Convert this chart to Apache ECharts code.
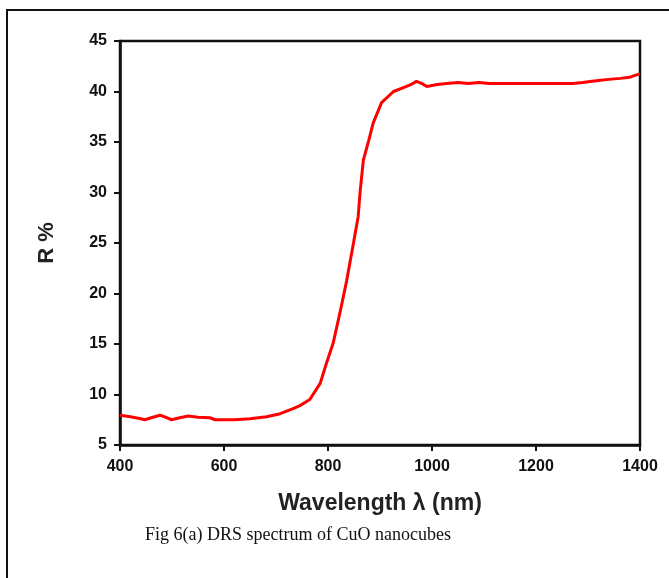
<!DOCTYPE html>
<html><head><meta charset="utf-8">
<script src="https://cdn.jsdelivr.net/npm/echarts@6/dist/echarts.min.js"></script>
<style>html,body{margin:0;padding:0;background:#fff}#c{width:669px;height:578px}</style>
</head><body><div id="c"></div>
<script>
var wavelength = [400,420,440,448,460,477,490,499,515,531,550,573,583,600,620,650,682,708,733,746,765,785,797,810,823,836,849,858,862,868,877,887,903,926,951,960,970,980,990,1010,1028,1050,1070,1090,1110,1130,1150,1170,1190,1210,1230,1250,1270,1290,1304,1320,1340,1362,1380,1390,1400];
var reflectance = [7.95,7.8,7.6,7.5,7.7,7.95,7.7,7.5,7.7,7.87,7.75,7.7,7.5,7.5,7.5,7.6,7.8,8.1,8.6,8.9,9.5,11.1,13.1,15.1,18.1,21.3,25,27.6,30.2,33.2,34.9,36.9,38.9,40.0,40.5,40.7,41.0,40.8,40.5,40.7,40.8,40.9,40.8,40.9,40.8,40.8,40.8,40.8,40.8,40.8,40.8,40.8,40.8,40.9,41.0,41.1,41.2,41.3,41.4,41.6,41.75];
var xTicks = [400,600,800,1000,1200,1400];
var yTicks = [5,10,15,20,25,30,35,40,45];

var chart = echarts.init(document.getElementById('c'));
var data = wavelength.map(function(w,i){return [w, reflectance[i]];});
var lbl = {color:'#111', fontFamily:'Liberation Sans, Arial, sans-serif', fontWeight:'bold', fontSize:16};
chart.setOption({
  animation:false,
  graphic:[
    {type:'rect', shape:{x:7,y:10,width:700,height:600}, style:{fill:'none', stroke:'#111', lineWidth:2}},
    {type:'text', left:145, top:526, style:{text:'Fig 6(a) DRS spectrum of CuO nanocubes', font:'18px "Liberation Serif", "DejaVu Serif", serif', fill:'#111'}}
  ],
  grid:{left:120, right:29, top:41, bottom:133, show:true, borderColor:'#111', borderWidth:2.5, backgroundColor:'#fff'},
  xAxis:{type:'value', min:400, max:1400, interval:200,
    axisLine:{show:true, lineStyle:{color:'#111', width:2.5}},
    axisTick:{show:true, length:6, lineStyle:{color:'#111', width:2}},
    splitLine:{show:false},
    axisLabel:Object.assign({margin:14, formatter:function(v){return String(v);}}, lbl),
    name:'Wavelength λ (nm)', nameLocation:'middle', nameGap:47,
    nameTextStyle:{color:'#222', fontFamily:'Liberation Sans, Arial, sans-serif', fontWeight:'bold', fontSize:23}
  },
  yAxis:{type:'value', min:5, max:45, interval:5,
    axisLine:{show:true, lineStyle:{color:'#111', width:2.5}},
    axisTick:{show:true, length:6, lineStyle:{color:'#111', width:2}},
    splitLine:{show:false},
    axisLabel:Object.assign({margin:13}, lbl),
    name:'R %', nameLocation:'middle', nameGap:62, nameRotate:90,
    nameTextStyle:{color:'#222', fontFamily:'Liberation Sans, Arial, sans-serif', fontWeight:'bold', fontSize:22}
  },
  series:[{type:'line', data:data, showSymbol:false, symbol:'none', smooth:false,
    lineStyle:{color:'#ff0000', width:3}}]
});
</script></body></html>
